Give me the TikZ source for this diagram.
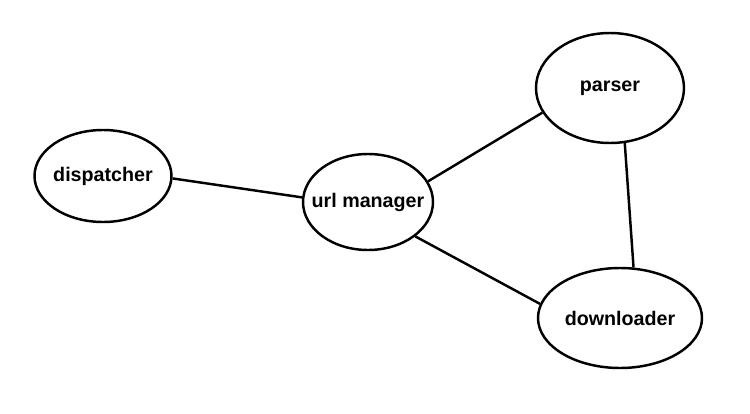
\documentclass[tikz,border=0pt]{standalone}
\usepackage{fontspec}
\setmainfont{Liberation Sans}
\usetikzlibrary{shapes.geometric}
\begin{document}
\begin{tikzpicture}
            \tikzstyle{module}=[ellipse,draw,line width=1.4pt,inner sep=0pt,font=\fontsize{11.2}{13}\selectfont\bfseries]
            \tikzset{edge/.style = {line width=1.4pt}}
            \useasboundingbox (0,0) rectangle (15,-8.28);
            \node[module,minimum width=2.74cm,minimum height=1.84cm] (disp) at (2.06,-3.52) {\makebox[0pt]{dispatcher}};
            \node[module,minimum width=2.6cm,minimum height=1.92cm] (url) at (7.36,-4.04) {\makebox[0pt]{url manager}};
            \node[module,minimum width=2.96cm,minimum height=2.2cm] (parser) at (12.2,-1.76) {\makebox[0pt]{parser}};
            \node[module,minimum width=3.28cm,minimum height=2cm] (down) at (12.4,-6.36) {\makebox[0pt]{downloader}};
            \draw[edge] (disp.-2) -- (url.176);
            \draw[edge] (url.19) -- (parser.-160);
            \draw[edge] (url.-36) -- (down.170);
            \draw[edge] (parser.-75) -- (down.75);
        \end{tikzpicture}
\end{document}
